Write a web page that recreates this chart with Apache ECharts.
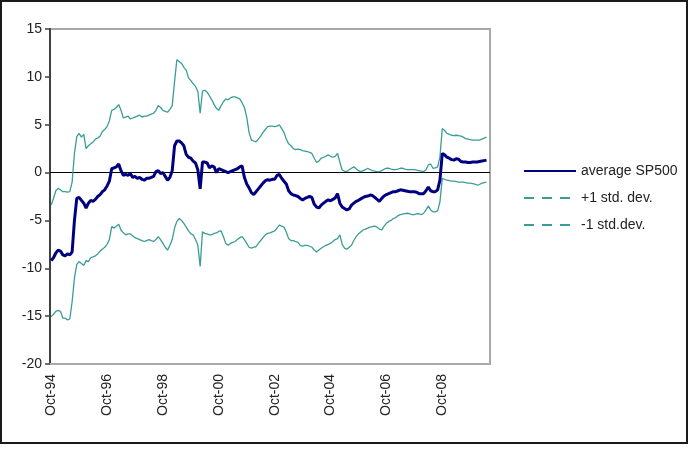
<!DOCTYPE html>
<html>
<head>
<meta charset="utf-8">
<script src="https://cdn.jsdelivr.net/npm/echarts@6/dist/echarts.min.js"></script>
<style>
  html, body { margin: 0; padding: 0; background: #fff; }
  #frame {
    position: absolute; left: 0; top: 0;
    width: 688px; height: 444px;
    box-sizing: border-box;
    border: 2px solid #1a1a1a;
  }
  #chart { width: 684px; height: 440px; }
</style>
</head>
<body>
<div id="frame"><div id="chart"></div></div>
<script>
// monthly categories, Oct-94 .. Jun-10
const monthNames = ['Jan', 'Feb', 'Mar', 'Apr', 'May', 'Jun', 'Jul', 'Aug', 'Sep', 'Oct', 'Nov', 'Dec'];
const categories = [];
for (let i = 0; i < 189; i++) {
  const k = 9 + i;
  const yy = (94 + Math.floor(k / 12)) % 100;
  categories.push(`${monthNames[k % 12]}-${yy < 10 ? '0' + yy : yy}`);
}

const seriesNames = ['average SP500', '+1 std. dev.', '-1 std.dev.'];

// average SP500
const avgValues = [
  -9.2, -8.9, -8.4, -8.1, -8.2, -8.6, -8.7, -8.5, -8.6, -8.3,
  -5.0, -2.7, -2.6, -2.9, -3.2, -3.7, -3.2, -2.9, -3.0, -2.8,
  -2.5, -2.3, -2.0, -1.8, -1.4, -0.9, 0.4, 0.5, 0.6, 0.9,
  0.2, -0.3, -0.2, -0.3, -0.1, -0.5, -0.4, -0.6, -0.5, -0.7,
  -0.8, -0.6, -0.6, -0.5, -0.4, 0.1, 0.2, -0.1, 0.0, -0.4,
  -0.8, -0.5, 0.2, 2.8, 3.3, 3.3, 3.1, 2.8, 1.9, 1.6,
  1.5, 1.2, 1.0, 0.3, -1.7, 1.1, 1.1, 1.0, 0.5, 0.7,
  0.6, 0.0, 0.4, 0.3, 0.2, 0.1, 0.0, 0.1, 0.2, 0.3,
  0.4, 0.6, 0.7, -0.5, -1.2, -1.6, -2.1, -2.3, -2.0, -1.7,
  -1.4, -1.1, -0.85, -0.75, -0.8, -0.7, -0.7, -0.3, -0.2, -0.6,
  -0.9, -1.2, -1.9, -2.2, -2.35, -2.4, -2.5, -2.7, -2.85, -2.7,
  -2.6, -2.5, -2.6, -3.3, -3.6, -3.7, -3.4, -3.2, -3.0, -2.85,
  -2.95, -2.8, -2.65, -2.2, -3.2, -3.6, -3.75, -3.9, -3.8, -3.4,
  -3.2, -3.0, -2.9, -2.75, -2.6, -2.5, -2.45, -2.35, -2.4, -2.6,
  -2.8, -3.0, -2.7, -2.45, -2.3, -2.2, -2.1, -2.0, -2.0, -1.9,
  -1.8, -1.85, -1.9, -1.95, -2.0, -2.0, -2.0, -2.05, -2.2, -2.2,
  -2.2, -1.9, -1.5, -1.9, -2.0, -2.0, -1.8, -0.8, 2.0, 1.85,
  1.6, 1.5, 1.35, 1.3, 1.45, 1.4, 1.15, 1.1, 1.1, 1.05,
  1.05, 1.1, 1.1, 1.1, 1.15, 1.2, 1.25, 1.3
];

// +1 std. dev.
const upperValues = [
  -3.4, -2.7, -1.9, -1.65, -1.8, -2.0, -2.0, -2.05, -2.0, -1.0,
  2.0, 3.75, 4.1, 3.7, 4.0, 2.5, 2.8, 3.0, 3.2, 3.5,
  3.6, 3.8, 4.3, 4.5, 4.8, 5.4, 6.5, 6.6, 6.8, 7.1,
  6.5, 5.7, 5.8, 5.9, 5.6, 5.7, 5.8, 5.9, 6.0, 5.8,
  5.9, 5.9, 6.0, 6.1, 6.2, 6.5, 7.0, 6.8, 6.5, 6.4,
  6.3, 6.6, 7.0, 9.5, 11.8, 11.6, 11.4, 11.0, 10.7, 9.9,
  9.6, 9.3, 9.0, 8.5, 6.2, 8.5, 8.6, 8.4, 8.0, 7.6,
  7.1, 6.7, 6.5, 7.0, 7.4, 7.7, 7.6, 7.8, 7.9, 7.9,
  7.8, 7.7, 7.3, 6.8, 5.8, 4.2, 3.4, 3.3, 3.2, 3.5,
  3.8, 4.2, 4.5, 4.8, 4.85, 4.85, 4.8, 4.85, 5.0, 4.6,
  4.2, 3.5, 3.0, 2.8, 2.5, 2.4, 2.45, 2.4, 2.3, 2.25,
  2.2, 2.1, 2.0, 1.5, 1.05, 1.2, 1.5, 1.6, 1.7, 1.85,
  1.7, 1.6, 1.7, 2.0, 1.1, 0.27, 0.15, 0.1, 0.3, 0.45,
  0.6, 0.4, 0.2, 0.1, 0.2, 0.3, 0.45, 0.3, 0.2, 0.15,
  0.1, 0.1, 0.2, 0.35, 0.45, 0.45, 0.35, 0.3, 0.3, 0.35,
  0.45, 0.45, 0.35, 0.3, 0.3, 0.3, 0.3, 0.25, 0.2, 0.15,
  0.1, 0.3, 0.8, 0.9, 0.45, 0.5, 0.6, 1.65, 4.6, 4.4,
  4.1, 4.0, 3.9, 3.85, 3.9, 3.85, 3.8, 3.7, 3.55, 3.5,
  3.45, 3.4, 3.4, 3.4, 3.4, 3.5, 3.6, 3.7
];

// -1 std.dev.
const lowerValues = [
  -15.05, -14.8, -14.5, -14.4, -14.5, -15.2, -15.2, -15.4, -15.3, -13.5,
  -11.0, -9.6, -9.3, -9.5, -9.7, -9.2, -9.3, -8.9, -8.8, -8.7,
  -8.5, -8.2, -8.0, -7.8, -7.5, -7.0, -5.65, -5.8, -5.6, -5.4,
  -6.0, -6.3, -6.5, -6.4, -6.4, -6.6, -6.8, -6.9, -7.0, -7.1,
  -7.2, -7.1, -7.0, -7.1, -7.2, -7.0, -6.7, -7.0, -7.4, -7.8,
  -8.1, -7.6, -7.0, -5.8, -5.1, -4.8, -5.0, -5.3, -5.7, -6.1,
  -6.4, -6.5, -7.0, -7.6, -9.8, -6.2, -6.35, -6.4, -6.5, -6.5,
  -6.35, -6.3, -6.15, -6.1, -6.7, -7.4, -7.6, -7.4, -7.3, -7.2,
  -7.0, -6.8, -6.7, -7.0, -7.4, -7.8, -7.9, -7.8, -7.75, -7.4,
  -7.1, -6.8, -6.5, -6.35, -6.3, -6.2, -6.1, -5.8, -5.5, -5.6,
  -5.7, -6.2, -6.9, -7.1, -7.1, -7.2, -7.3, -7.6, -7.7, -7.6,
  -7.6, -7.7, -7.8, -8.1, -8.3, -8.1, -7.9, -7.75, -7.6, -7.5,
  -7.4, -7.2, -7.0, -6.9, -6.5, -7.5, -7.9, -8.0, -7.8, -7.6,
  -7.1, -6.7, -6.4, -6.2, -6.0, -5.9, -5.8, -5.7, -5.65, -5.6,
  -5.7, -5.9, -6.0, -5.6, -5.3, -5.1, -5.0, -4.8, -4.7, -4.5,
  -4.4, -4.35, -4.3, -4.25, -4.3, -4.4, -4.4, -4.3, -4.3, -4.4,
  -4.25, -3.9, -3.5, -3.9, -4.1, -4.1, -4.0, -3.05, -0.6, -0.7,
  -0.8, -0.85, -0.9, -0.9, -0.95, -1.0, -1.0, -1.0, -1.05, -1.1,
  -1.1, -1.15, -1.2, -1.3, -1.25, -1.1, -1.05, -1.0
];

const yTicks = { min: -20, max: 15, interval: 5 };

const navy = '#000080';
const teal = '#3a9d95';
const font = 'Liberation Sans, Arial, sans-serif';

const chart = echarts.init(document.getElementById('chart'), null, { renderer: 'canvas' });
chart.setOption({
  animation: false,
  backgroundColor: '#fff',
  grid: {
    left: 48,
    top: 27,
    width: 440,
    height: 335,
    show: true,
    borderColor: '#a8a8a8',
    borderWidth: 2,
  },
  legend: {
    orient: 'vertical',
    left: 516,
    top: 157,
    itemWidth: 52,
    itemHeight: 14,
    itemGap: 13,
    itemStyle: { opacity: 0 },
    textStyle: { fontFamily: font, fontSize: 14, color: '#222' },
    data: [
      { name: seriesNames[0] },
      { name: seriesNames[1], lineStyle: { type: [10, 8], width: 2 } },
      { name: seriesNames[2], lineStyle: { type: [10, 8], width: 2 } },
    ],
  },
  xAxis: {
    type: 'category',
    data: categories,
    boundaryGap: true,
    axisLine: { onZero: false, lineStyle: { color: '#a8a8a8', width: 2 } },
    axisTick: { show: false },
    axisLabel: {
      interval: 23,
      rotate: 90,
      margin: 10,
      fontFamily: font,
      fontSize: 14,
      color: '#222',
    },
    splitLine: { show: false },
  },
  yAxis: {
    type: 'value',
    min: yTicks.min,
    max: yTicks.max,
    interval: yTicks.interval,
    axisLine: { show: true, lineStyle: { color: '#404040', width: 2 } },
    axisTick: { show: true, length: 5, lineStyle: { color: '#404040', width: 1.5 } },
    axisLabel: { margin: 8, fontFamily: font, fontSize: 14, color: '#222' },
    splitLine: { show: false },
  },
  series: [
    {
      name: seriesNames[1],
      type: 'line',
      data: upperValues,
      symbol: 'none',
      lineStyle: { color: teal, width: 1.3 },
      itemStyle: { color: teal },
      z: 2,
    },
    {
      name: seriesNames[2],
      type: 'line',
      data: lowerValues,
      symbol: 'none',
      lineStyle: { color: teal, width: 1.3 },
      itemStyle: { color: teal },
      z: 2,
    },
    {
      name: seriesNames[0],
      type: 'line',
      data: avgValues,
      symbol: 'none',
      lineStyle: { color: navy, width: 3 },
      itemStyle: { color: navy },
      z: 3,
      markLine: {
        silent: true,
        symbol: ['none', 'none'],
        label: { show: false },
        lineStyle: { color: '#000', width: 1.2, type: 'solid' },
        data: [{ yAxis: 0 }],
        z: 1,
      },
    },
  ],
});
</script>
</body>
</html>
